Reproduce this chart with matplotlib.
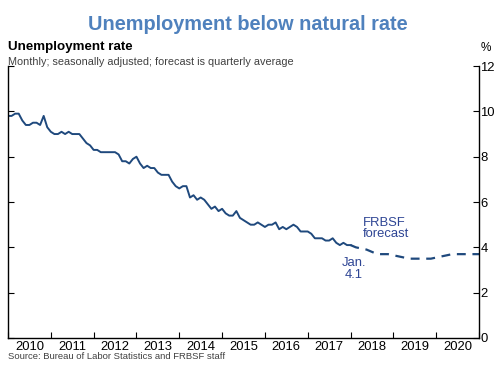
import matplotlib
matplotlib.use("Agg")
import matplotlib.pyplot as plt
import numpy as np

plt.rcParams['font.family'] = ['Liberation Sans', 'DejaVu Sans']

# monthly unemployment rate, Jan 2010 - Jan 2018
rate = [9.8, 9.8, 9.9, 9.9, 9.6, 9.4, 9.4, 9.5, 9.5, 9.4, 9.8, 9.3,
        9.1, 9.0, 9.0, 9.1, 9.0, 9.1, 9.0, 9.0, 9.0, 8.8, 8.6, 8.5,
        8.3, 8.3, 8.2, 8.2, 8.2, 8.2, 8.2, 8.1, 7.8, 7.8, 7.7, 7.9,
        8.0, 7.7, 7.5, 7.6, 7.5, 7.5, 7.3, 7.2, 7.2, 7.2, 6.9, 6.7,
        6.6, 6.7, 6.7, 6.2, 6.3, 6.1, 6.2, 6.1, 5.9, 5.7, 5.8, 5.6,
        5.7, 5.5, 5.4, 5.4, 5.6, 5.3, 5.2, 5.1, 5.0, 5.0, 5.1, 5.0,
        4.9, 5.0, 5.0, 5.1, 4.8, 4.9, 4.8, 4.9, 5.0, 4.9, 4.7, 4.7,
        4.7, 4.6, 4.4, 4.4, 4.4, 4.3, 4.3, 4.4, 4.2, 4.1, 4.2, 4.1,
        4.1]
months = 2010 + np.arange(len(rate)) / 12

# FRBSF forecast, quarterly average 2018Q1 - 2020Q4
fc_q = ['2018Q1', '2018Q2', '2018Q3', '2018Q4', '2019Q1', '2019Q2',
        '2019Q3', '2019Q4', '2020Q1', '2020Q2', '2020Q3', '2020Q4']
fc_rate = [4.0, 3.9, 3.7, 3.7, 3.6, 3.5, 3.5, 3.5, 3.6, 3.7, 3.7, 3.7]
fc_x = [int(q[:4]) + (int(q[-1]) - 1) / 4 + 0.125 for q in fc_q]

years = list(range(2010, 2021))

dark = '#1f497d'
note = '#2e4594'

fig = plt.figure(figsize=(5, 3.65), dpi=100)
ax = fig.add_axes([0.016, 0.074, 0.942, 0.745])

ax.plot(months, rate, color=dark, lw=1.4)
ax.plot([months[-1]] + fc_x + [2021.0], [rate[-1]] + fc_rate + [fc_rate[-1]],
        color=dark, lw=1.6, dashes=(4, 3))

ax.set_xlim(2010, 2021)
ax.set_ylim(0, 12)
ax.spines['top'].set_visible(False)
for s in ax.spines.values():
    s.set_linewidth(1.0)

ax.set_xticks(range(2010, 2022))
ax.set_xticklabels([])
ax.set_xticks([y + 0.5 for y in years], minor=True)
ax.set_xticklabels([str(y) for y in years], minor=True, fontsize=9.4)
ax.tick_params(axis='x', which='major', direction='in', length=4)
ax.tick_params(axis='x', which='minor', length=0, pad=2)

ax.set_yticks(range(0, 13, 2))
ax.yaxis.tick_right()
ax.tick_params(axis='y', which='major', direction='in', length=4,
               left=True, right=True, labelsize=9.4, pad=1)

ax.text(2018.29, 4.45, 'FRBSF\nforecast', color=note, fontsize=9.4,
        linespacing=0.95)
ax.text(2018.08, 2.65, 'Jan.\n4.1', color=note, fontsize=9.4,
        ha='center', linespacing=0.95)

fig.text(0.496, 0.932, 'Unemployment below natural rate', color='#4f81bd',
         fontsize=14.3, fontweight='bold', ha='center', va='center')
fig.text(0.016, 0.871, 'Unemployment rate', fontsize=9.6, fontweight='bold',
         va='center')
fig.text(0.016, 0.83, 'Monthly; seasonally adjusted; forecast is quarterly average',
         fontsize=7.8, color='#404040', va='center')
fig.text(0.962, 0.868, '%', fontsize=8.5, va='center')
fig.text(0.016, 0.022, 'Source: Bureau of Labor Statistics and FRBSF staff',
         fontsize=6.8, color='#404040', va='center')

fig.savefig('out.png', dpi=100)
